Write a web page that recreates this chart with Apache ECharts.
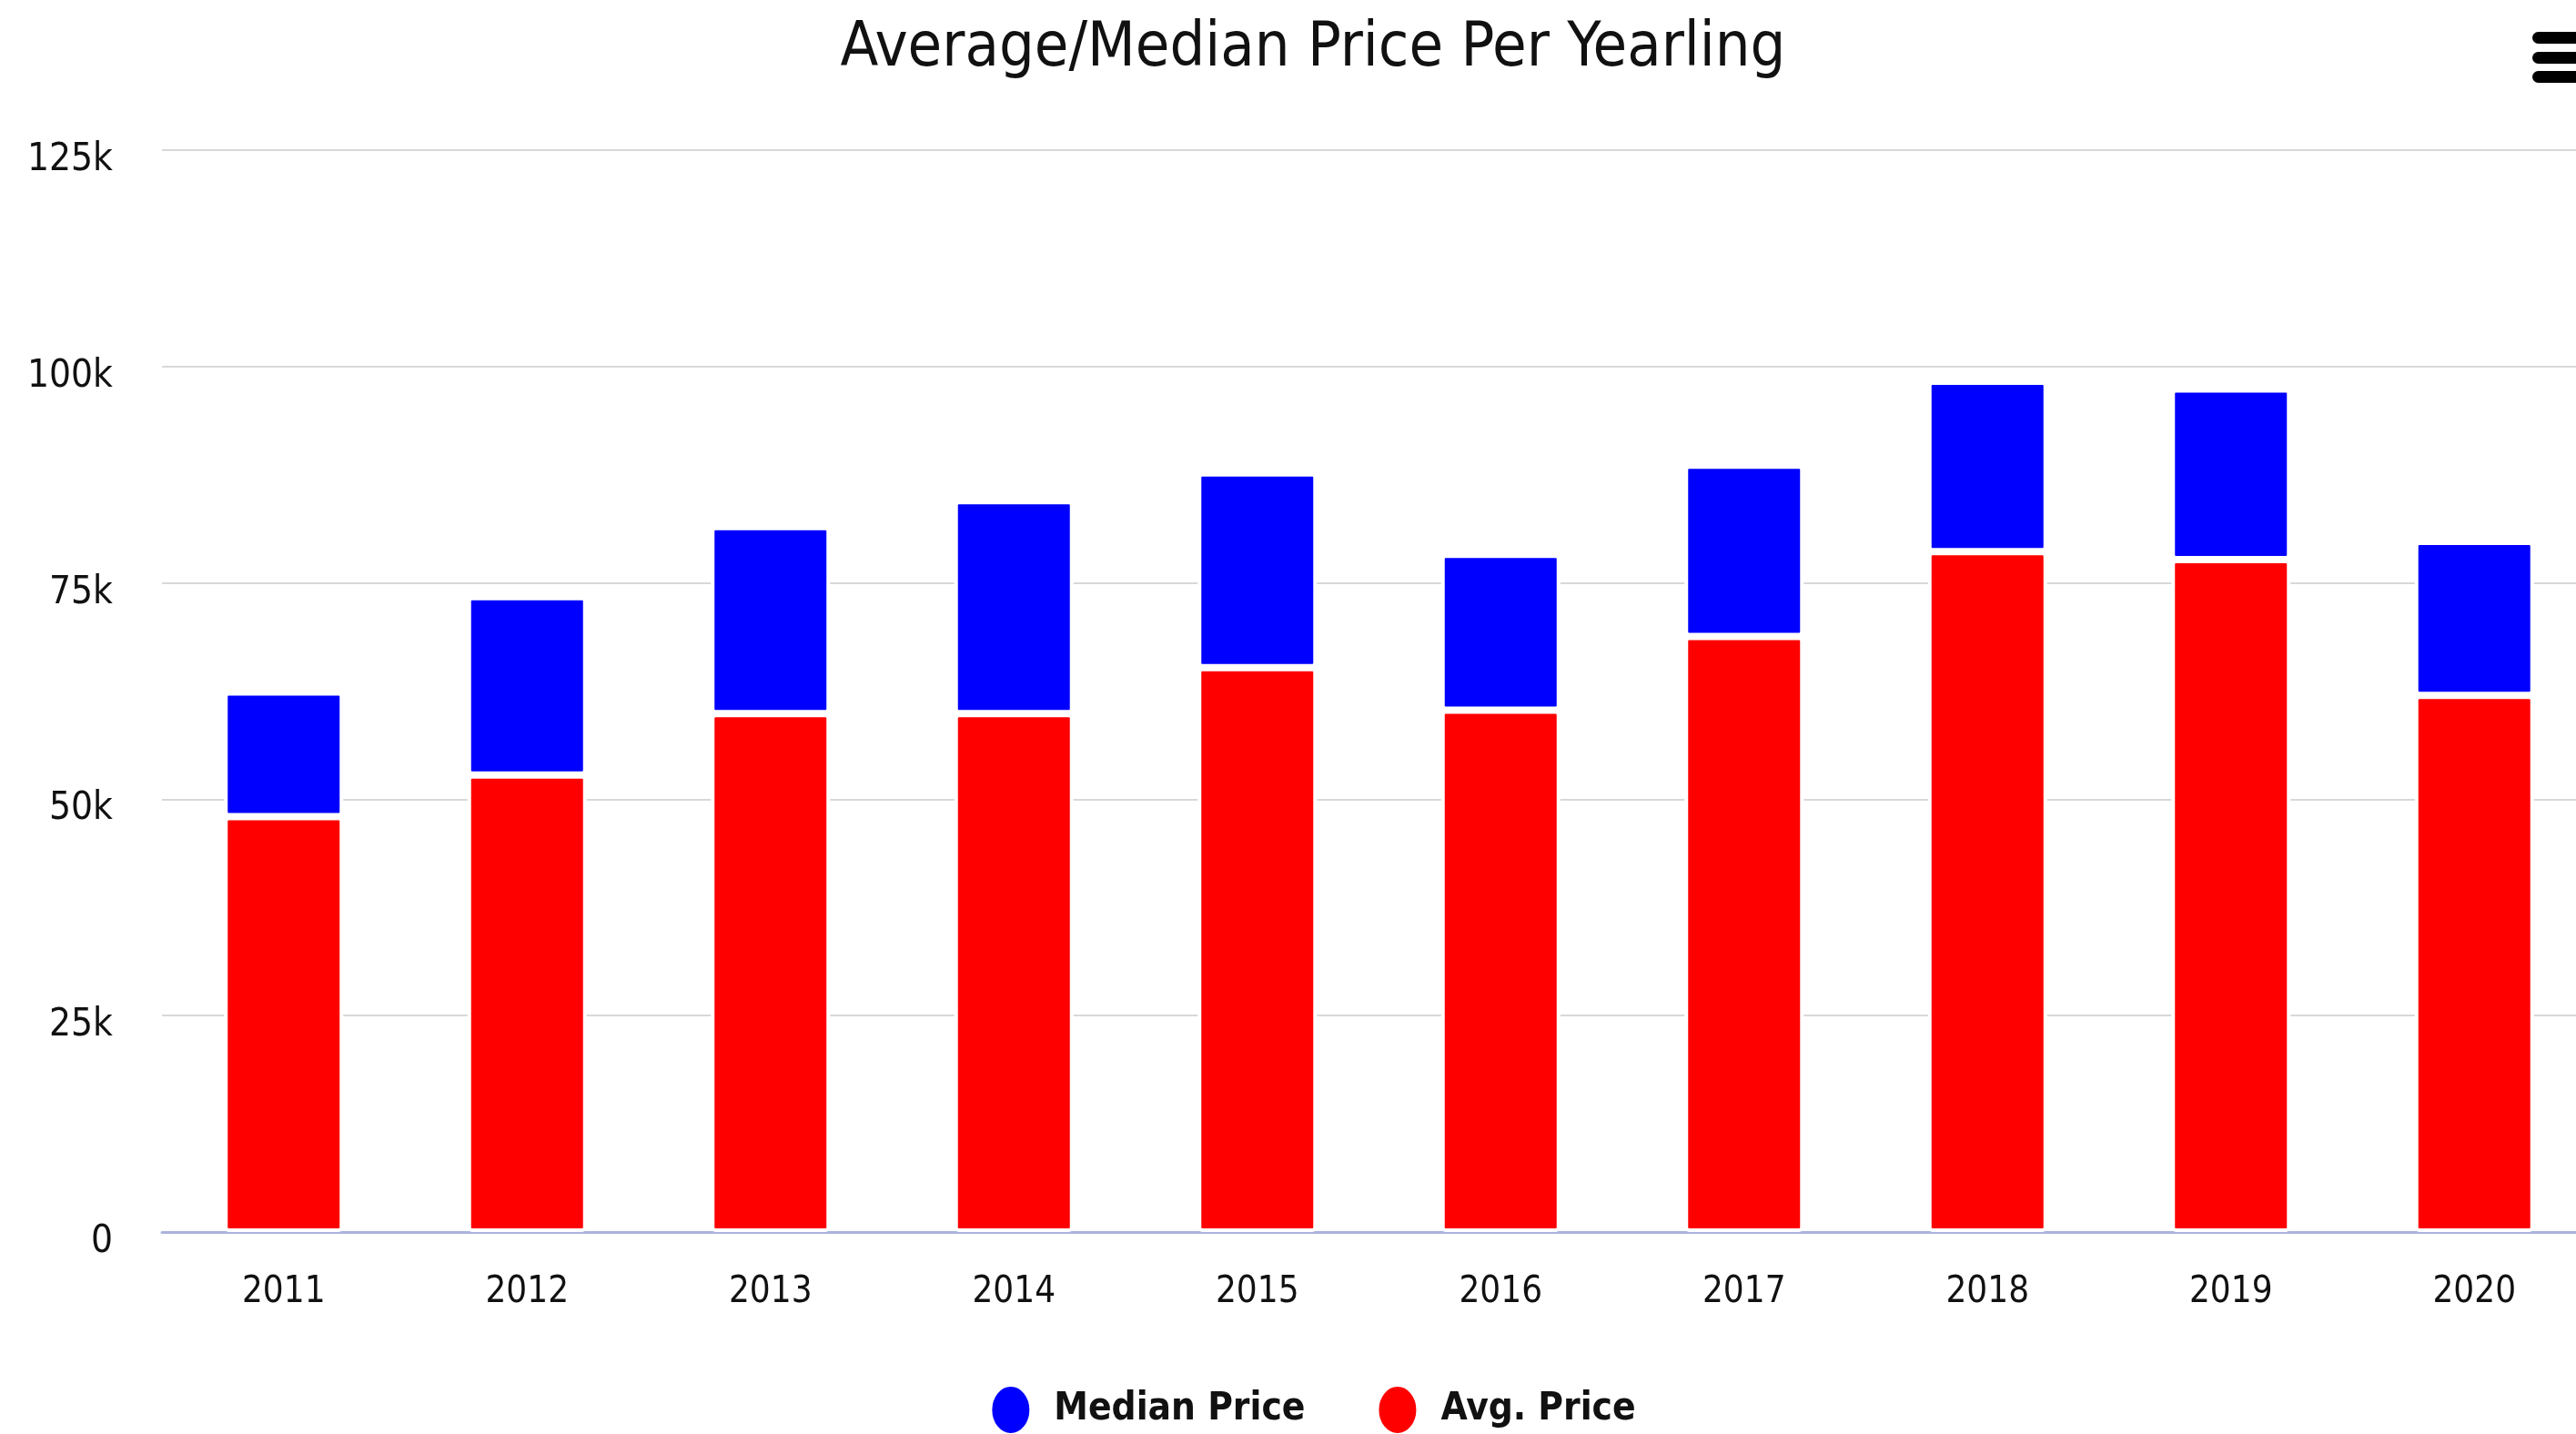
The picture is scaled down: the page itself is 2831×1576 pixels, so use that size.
<!DOCTYPE html>
<html>
<head>
<meta charset="utf-8">
<script src="https://cdn.jsdelivr.net/npm/echarts@6/dist/echarts.min.js"></script>
<style>
html, body { margin: 0; padding: 0; background: #fff; overflow: hidden; width: 2831px; height: 1576px; }
#chart { width: 2886px; height: 1576px; }
</style>
</head>
<body>
<div id="chart"></div>
<script>
// ---- data ----
const years = ['2011', '2012', '2013', '2014', '2015', '2016', '2017', '2018', '2019', '2020'];
const avgPrice = [48000, 52800, 59900, 59900, 65200, 60300, 68800, 78600, 77700, 62000];
const medianPrice = [14400, 20600, 21600, 24600, 22500, 18000, 19800, 19700, 19700, 17800];
const yTicks = { min: 0, max: 125000, interval: 25000 };
const titleText = 'Average/Median Price Per Yearling';
const seriesNames = ['Median Price', 'Avg. Price'];

const FONT = '"DejaVu Sans Condensed", "DejaVu Sans", sans-serif';
const ellipse = 'path://M0,50 A50,50 0 1,1 100,50 A50,50 0 1,1 0,50 Z';

const chart = echarts.init(document.getElementById('chart'), null, { renderer: 'canvas' });
chart.setOption({
  animation: false,
  backgroundColor: '#ffffff',
  title: {
    text: titleText,
    left: 'center',
    top: 20,
    padding: 0,
    textStyle: { fontFamily: FONT, fontSize: 68, fontWeight: 'normal', color: '#111' }
  },
  legend: {
    data: seriesNames,
    left: 'center',
    top: 1522,
    padding: 0,
    icon: ellipse,
    symbolKeepAspect: false,
    itemWidth: 43,
    itemHeight: 53,
    itemGap: 79,
    textStyle: { fontFamily: FONT, fontSize: 42, fontWeight: 'bold', color: '#111', padding: [6, 0, 0, 21] }
  },
  grid: { left: 178, right: 33, top: 165, bottom: 222, containLabel: false },
  xAxis: {
    type: 'category',
    data: years,
    boundaryGap: true,
    axisLine: { show: true, lineStyle: { color: '#aab4dd', width: 3 } },
    axisTick: { show: false },
    axisLabel: { fontFamily: FONT, fontSize: 40, color: '#111', margin: 47 },
    splitLine: { show: false }
  },
  yAxis: {
    type: 'value',
    min: yTicks.min,
    max: yTicks.max,
    interval: yTicks.interval,
    axisLine: { show: false },
    axisTick: { show: false },
    axisLabel: {
      fontFamily: FONT, fontSize: 42, color: '#111', margin: 54,
      verticalAlign: 'top',
      lineHeight: 22,
      formatter: v => (v === 0 ? '0' : (v / 1000) + 'k')
    },
    splitLine: { show: true, lineStyle: { color: '#d8d8d8', width: 2 } }
  },
  graphic: [
    { type: 'rect', shape: { x: 2783, y: 35, width: 70, height: 13, r: 6.5 }, style: { fill: '#000' } },
    { type: 'rect', shape: { x: 2783, y: 57, width: 70, height: 13, r: 6.5 }, style: { fill: '#000' } },
    { type: 'rect', shape: { x: 2783, y: 78, width: 70, height: 13, r: 6.5 }, style: { fill: '#000' } }
  ],
  series: [
    {
      name: 'Avg. Price',
      type: 'bar',
      stack: 'price',
      data: avgPrice,
      barWidth: 131,
      itemStyle: { color: '#ff0000', borderColor: '#ffffff', borderWidth: 4, borderRadius: 3 }
    },
    {
      name: 'Median Price',
      type: 'bar',
      stack: 'price',
      data: medianPrice,
      barWidth: 131,
      itemStyle: { color: '#0000ff', borderColor: '#ffffff', borderWidth: 4, borderRadius: 3 }
    }
  ]
});
</script>
</body>
</html>
